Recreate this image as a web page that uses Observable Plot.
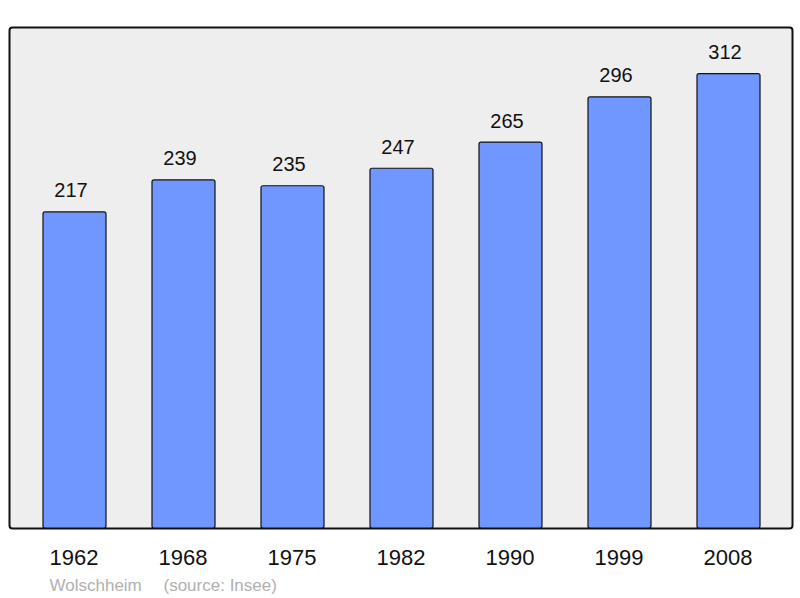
<!DOCTYPE html>
<html><head><meta charset="utf-8">
<script src="https://cdn.jsdelivr.net/npm/d3@7"></script>
<script src="https://cdn.jsdelivr.net/npm/@observablehq/plot@0.6"></script>
<style>body{margin:0;background:#fff}</style>
</head><body><div id="chart"></div>
<script>
const years = ["1962","1968","1975","1982","1990","1999","2008"];
const population = [217, 239, 235, 247, 265, 296, 312];
const place = "Wolschheim";
const source = "(source: Insee)";
const data = years.map((y, i) => ({year: y, pop: population[i]}));

const chart = Plot.plot({
  width: 800, height: 598,
  marginTop: 27, marginBottom: 70, marginLeft: 9, marginRight: 8,
  style: {fontFamily: "'Liberation Sans', Arial, sans-serif", background: "#fff"},
  x: {domain: years, range: [42, 761], paddingInner: 0.424, paddingOuter: 0, axis: null},
  y: {domain: [0, 344], axis: null},
  marks: [
    Plot.frame({fill: "#eeeeee", stroke: "#111", strokeWidth: 2, rx: 3}),
    Plot.barY(data, {x: "year", y: "pop", fill: "#7096ff", stroke: "#111", strokeWidth: 1.2, rx: 2}),
    Plot.text(data, {x: "year", y: "pop", text: d => String(d.pop), lineAnchor: "bottom", dx: -4, dy: -15, fontSize: 20, fill: "#111"}),
    Plot.text(data, {x: "year", text: "year", frameAnchor: "bottom", lineAnchor: "bottom", dx: -1, dy: 36, fontSize: 22, fill: "#111"}),
    Plot.text([place], {text: d => d, frameAnchor: "bottom-left", textAnchor: "start", lineAnchor: "bottom", dx: 40, dy: 62, fontSize: 17, fill: "#b0b0b0"}),
    Plot.text([source], {text: d => d, frameAnchor: "bottom-left", textAnchor: "start", lineAnchor: "bottom", dx: 154, dy: 62, fontSize: 17, fill: "#b0b0b0"})
  ]
});
document.getElementById("chart").append(chart);
</script>
</body></html>
